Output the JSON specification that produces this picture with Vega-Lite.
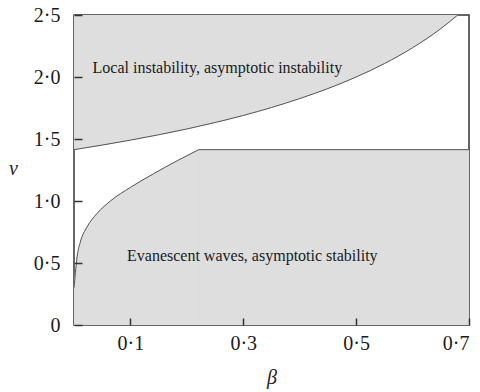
{
  "$schema": "https://vega.github.io/schema/vega-lite/v6.json",
  "width": 395,
  "height": 310,
  "autosize": {"type": "none"},
  "padding": {"left": 74, "top": 15, "right": 11, "bottom": 67},
  "background": "white",
  "config": {
    "font": "'Liberation Serif', 'Times New Roman', 'DejaVu Serif', serif",
    "view": {"stroke": "#333333", "strokeWidth": 1.5}
  },
  "datasets": {
    "upper": [
      {"beta": 0.0, "v": 1.414},
      {"beta": 0.05, "v": 1.451},
      {"beta": 0.1, "v": 1.491},
      {"beta": 0.15, "v": 1.534},
      {"beta": 0.2, "v": 1.581},
      {"beta": 0.25, "v": 1.633},
      {"beta": 0.3, "v": 1.69},
      {"beta": 0.35, "v": 1.754},
      {"beta": 0.4, "v": 1.826},
      {"beta": 0.45, "v": 1.907},
      {"beta": 0.5, "v": 2.0},
      {"beta": 0.55, "v": 2.108},
      {"beta": 0.6, "v": 2.236},
      {"beta": 0.65, "v": 2.39},
      {"beta": 0.68, "v": 2.5}
    ],
    "lower": [
      {"seg": "curve", "beta": 0.0, "v": 0.3},
      {"seg": "curve", "beta": 0.0025, "v": 0.42},
      {"seg": "curve", "beta": 0.0055, "v": 0.55},
      {"seg": "curve", "beta": 0.0113, "v": 0.67},
      {"seg": "curve", "beta": 0.023, "v": 0.79},
      {"seg": "curve", "beta": 0.041, "v": 0.9},
      {"seg": "curve", "beta": 0.0645, "v": 1.0},
      {"seg": "curve", "beta": 0.1, "v": 1.11},
      {"seg": "curve", "beta": 0.141, "v": 1.22},
      {"seg": "curve", "beta": 0.183, "v": 1.325},
      {"seg": "curve", "beta": 0.221, "v": 1.414},
      {"seg": "flat", "beta": 0.221, "v": 1.414},
      {"seg": "flat", "beta": 0.7, "v": 1.414}
    ],
    "notes": [
      {"beta": 0.254, "v": 2.07, "text": "Local instability, asymptotic instability"},
      {"beta": 0.316, "v": 0.56, "text": "Evanescent waves, asymptotic stability"}
    ]
  },
  "layer": [
    {
      "data": {"name": "upper"},
      "mark": {"type": "area", "color": "#dedede", "stroke": "#dedede", "strokeWidth": 1, "interpolate": "monotone", "clip": true},
      "encoding": {
        "x": {
          "field": "beta",
          "type": "quantitative",
          "scale": {"domain": [0, 0.7], "nice": false, "zero": false},
          "axis": {
            "title": "β",
            "titleFontStyle": "italic",
            "titleFontWeight": "normal",
            "titleFontSize": 20,
            "titleColor": "#222222",
            "titleBaseline": "middle",
            "titleY": 52,
            "values": [0.1, 0.3, 0.5, 0.7],
            "labelExpr": "replace(format(datum.value, '.1f'), '.', '·')",
            "labelFontSize": 20,
            "labelColor": "#1a1a1a",
            "labelBaseline": "top",
            "labelPadding": 15,
            "tickSize": -7,
            "tickColor": "#333333",
            "tickWidth": 1.5,
            "domain": false,
            "grid": false,
            "zindex": 1
          }
        },
        "y": {
          "field": "v",
          "type": "quantitative",
          "scale": {"domain": [0, 2.5], "nice": false},
          "axis": {
            "title": "v",
            "titleFontStyle": "italic",
            "titleFontWeight": "normal",
            "titleFontSize": 20,
            "titleColor": "#222222",
            "titleAngle": 0,
            "titleAlign": "center",
            "titleBaseline": "middle",
            "titleX": -61,
            "titleY": 153,
            "values": [0, 0.5, 1, 1.5, 2, 2.5],
            "labelExpr": "datum.value == 0 ? '0' : replace(format(datum.value, '.1f'), '.', '·')",
            "labelFontSize": 20,
            "labelColor": "#1a1a1a",
            "labelPadding": 22,
            "tickSize": -8,
            "tickColor": "#333333",
            "tickWidth": 1.5,
            "domain": false,
            "grid": false,
            "zindex": 1
          }
        },
        "y2": {"datum": 2.5}
      }
    },
    {
      "data": {"name": "lower"},
      "mark": {"type": "area", "color": "#dedede", "stroke": "#dedede", "strokeWidth": 1, "interpolate": "monotone", "clip": true},
      "encoding": {
        "x": {"field": "beta", "type": "quantitative"},
        "y": {"field": "v", "type": "quantitative"},
        "y2": {"datum": 0},
        "detail": {"field": "seg"}
      }
    },
    {
      "data": {"name": "upper"},
      "mark": {"type": "line", "color": "#555555", "strokeWidth": 1, "interpolate": "monotone", "clip": true},
      "encoding": {
        "x": {"field": "beta", "type": "quantitative"},
        "y": {"field": "v", "type": "quantitative"}
      }
    },
    {
      "data": {"name": "lower"},
      "mark": {"type": "line", "color": "#555555", "strokeWidth": 1, "interpolate": "monotone", "clip": true},
      "encoding": {
        "x": {"field": "beta", "type": "quantitative"},
        "y": {"field": "v", "type": "quantitative"},
        "detail": {"field": "seg"}
      }
    },
    {
      "data": {"name": "notes"},
      "mark": {"type": "text", "fontSize": 16, "color": "#1a1a1a", "align": "center", "baseline": "middle"},
      "encoding": {
        "x": {"field": "beta", "type": "quantitative"},
        "y": {"field": "v", "type": "quantitative"},
        "text": {"field": "text"}
      }
    }
  ]
}
